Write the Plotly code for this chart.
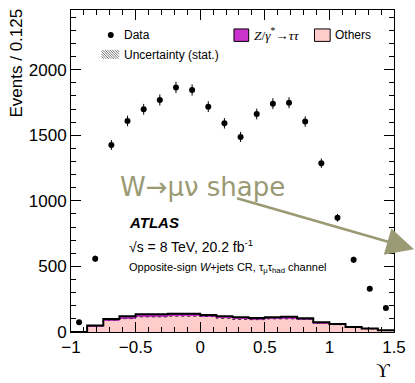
import plotly.graph_objects as go

# ---- data ----
bin_low = -1.0
bin_width = 0.125
data_counts = [74, 559, 1426, 1609, 1698, 1769, 1865, 1845, 1718, 1591,
               1487, 1662, 1741, 1748, 1604, 1287, 871, 551, 330, 183]
others = [0, 45, 90, 102, 115, 115, 120, 120, 118, 104,
          96, 94, 100, 100, 95, 68, 56, 35, 24, 12]
ztautau = [0, 4, 10, 18, 20, 20, 20, 20, 12, 16,
           16, 13, 12, 17, 9, 6, 5, 4, 2, 1]
stat_unc = [0, 3, 4, 5, 5, 5, 5, 5, 5, 5,
            5, 5, 5, 5, 5, 4, 4, 3, 3, 2]
x_ticks = [-1, -0.5, 0, 0.5, 1, 1.5]
y_ticks = [0, 500, 1000, 1500, 2000]

nb = len(data_counts)
centers = [bin_low + bin_width * (i + 0.5) for i in range(nb)]
edges = [bin_low + bin_width * i for i in range(nb + 1)]
total = [o + z for o, z in zip(others, ztautau)]
data_err = [c ** 0.5 for c in data_counts]

FONT = "Liberation Sans, Arial, Helvetica, sans-serif"
SERIF = "Liberation Serif, Times New Roman, serif"

fig = go.Figure()
fig.add_trace(go.Bar(x=centers, y=others, width=bin_width, marker=dict(color="#ffcccc", line=dict(width=0)),
                     name="Others", showlegend=False))
fig.add_trace(go.Bar(x=centers, y=ztautau, width=bin_width, base=others,
                     marker=dict(color="#cc33cc", line=dict(width=0)),
                     name="Z/γ*→ττ", showlegend=False))
fig.add_trace(go.Bar(x=centers, y=[2 * e for e in stat_unc], width=bin_width,
                     base=[t - e for t, e in zip(total, stat_unc)],
                     marker=dict(color="rgba(0,0,0,0)", line=dict(width=0),
                                 pattern=dict(shape="\\", fgcolor="#333333", bgcolor="rgba(0,0,0,0)",
                                              size=3, solidity=0.4)),
                     showlegend=False))
fig.add_trace(go.Scatter(x=edges, y=others + [others[-1]], mode="lines", line_shape="hv",
                         line=dict(color="#552255", width=1, dash="dot"), showlegend=False))
fig.add_trace(go.Scatter(x=edges, y=total + [total[-1]], mode="lines", line_shape="hv",
                         line=dict(color="black", width=2), showlegend=False))
fig.add_trace(go.Scatter(x=centers, y=data_counts, mode="markers",
                         marker=dict(color="black", size=6),
                         error_y=dict(type="data", array=data_err, color="black", thickness=1, width=0),
                         name="Data", showlegend=False))

L, R, T, B = 71, 15, 9, 51
W, H = 415, 383
pw, ph = W - L - R, H - T - B


def px(xp):
    return (xp - L) / pw


def py(yp):
    return (H - B - yp) / ph


def ann(**kw):
    d = dict(xref="paper", yref="paper", showarrow=False, xanchor="left", yanchor="middle")
    d.update(kw)
    return d


annotations = [
    ann(x=px(205), y=py(187), text="W→μν shape", xanchor="center",
        font=dict(family="DejaVu Sans", size=26, color="#9a9a74")),
    ann(x=px(430), y=py(249), ax=240 - 430, ay=197 - 249, text="", showarrow=True,
        arrowhead=2, arrowsize=2.2, arrowwidth=2.5, arrowcolor="#9a9a74"),
    ann(x=px(128), y=py(222), text="<b><i>ATLAS</i></b>",
        font=dict(family=FONT, size=15, color="black")),
    ann(x=px(128), y=py(246), text="√s = 8 TeV, 20.2 fb<sup>-1</sup>",
        font=dict(family=FONT, size=14, color="black")),
    ann(x=px(128), y=py(268), text="Opposite-sign <i>W</i>+jets CR, τ<sub>μ</sub>τ<sub>had</sub> channel",
        font=dict(family=FONT, size=11, color="black")),
    # legend texts
    ann(x=px(123), y=py(34), text="Data",
        font=dict(family=FONT, size=12, color="black")),
    ann(x=px(123), y=py(54), text="Uncertainty (stat.)",
        font=dict(family=FONT, size=12, color="black")),
    ann(x=px(255), y=py(34), text="<i>Z</i>/<i>γ</i><sup>*</sup>→<i>ττ</i>",
        font=dict(family=SERIF, size=13.5, color="black")),
    ann(x=px(338), y=py(34), text="Others",
        font=dict(family=FONT, size=12, color="black")),
    # axis titles
    ann(x=px(398), y=py(371), text="ϒ", xanchor="right",
        font=dict(family=SERIF, size=19, color="black")),
    ann(x=px(16), y=py(6), text="Events / 0.125", textangle=-90,
        xanchor="center", yanchor="top", font=dict(family=FONT, size=17, color="black")),
]

shapes = [
    dict(type="circle", xref="paper", yref="paper", x0=px(108.5), x1=px(114.5), y0=py(31), y1=py(37),
         fillcolor="black", line=dict(width=0)),
    dict(type="rect", xref="paper", yref="paper", x0=px(237), x1=px(252), y0=py(28), y1=py(40.5),
         fillcolor="#cc33cc", line=dict(color="black", width=1)),
    dict(type="rect", xref="paper", yref="paper", x0=px(319), x1=px(335), y0=py(28), y1=py(40.5),
         fillcolor="#ffcccc", line=dict(color="black", width=1)),
]
# hatched legend swatch (diagonal lines, top-left to bottom-right)
hx0, hx1, hy0, hy1 = 102, 120, 49, 58
step = 2.5
k = -(hy1 - hy0)
while k < (hx1 - hx0):
    t0 = max(0, -k)
    t1 = min(hy1 - hy0, (hx1 - hx0) - k)
    if t1 > t0:
        shapes.append(dict(type="line", xref="paper", yref="paper",
                           x0=px(hx0 + k + t0), y0=py(hy0 + t0),
                           x1=px(hx0 + k + t1), y1=py(hy0 + t1),
                           line=dict(color="#555555", width=0.8)))
    k += step

fig.update_layout(
    width=W, height=H, margin=dict(l=L, r=R, t=T, b=B),
    paper_bgcolor="white", plot_bgcolor="white",
    barmode="overlay", bargap=0, showlegend=False,
    annotations=annotations, shapes=shapes,
    font=dict(family=FONT, color="black"),
    xaxis=dict(range=[-1, 1.5], tickvals=x_ticks,
               ticktext=[str(v).replace("-", "−") if v != 0 else "0" for v in x_ticks],
               ticks="inside", ticklen=10, tickwidth=1, tickcolor="black",
               showline=True, linecolor="black", linewidth=1, mirror="allticks",
               showgrid=False, zeroline=False, tickfont=dict(size=17),
               minor=dict(dtick=0.1, tick0=0, ticks="inside", ticklen=5, tickcolor="black", showgrid=False)),
    yaxis=dict(range=[0, 2455], tickvals=y_ticks, ticks="inside", ticklen=10, tickwidth=1, tickcolor="black",
               showline=True, linecolor="black", linewidth=1, mirror="allticks",
               showgrid=False, zeroline=False, tickfont=dict(size=17),
               minor=dict(dtick=100, tick0=0, ticks="inside", ticklen=5, tickcolor="black", showgrid=False)),
)
fig.write_html("out.html")
